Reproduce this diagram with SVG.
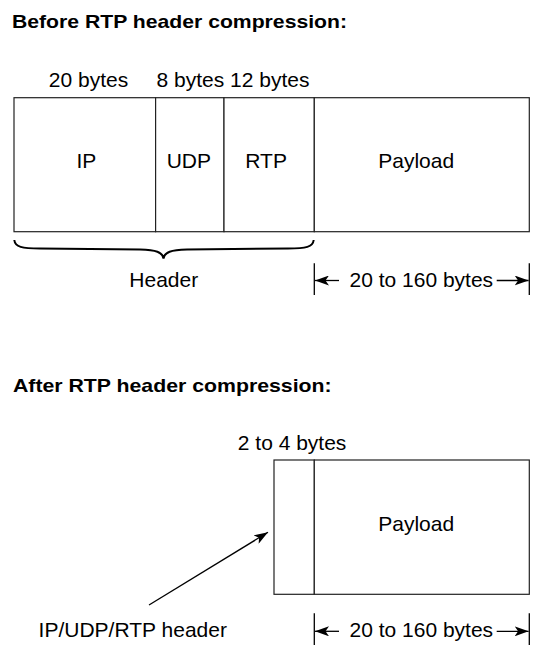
<svg xmlns="http://www.w3.org/2000/svg" width="535" height="647" viewBox="0 0 535 647">
<style>
.t{font-family:"Liberation Sans",Arial,sans-serif;font-size:21px;fill:#000}
.b{font-family:"Liberation Sans",Arial,sans-serif;font-size:19px;font-weight:bold;fill:#000}
.m{text-anchor:middle}
.box{fill:#fff;stroke:#222;stroke-width:1.2}
.ln{stroke:#000;stroke-width:1.3;fill:none}
</style>
<defs>
<marker id="ah" viewBox="0 0 14 10" refX="14" refY="5" markerWidth="14" markerHeight="10" markerUnits="userSpaceOnUse" orient="auto">
<path d="M0,0 L14,5 L0,10 L3.5,5 Z" fill="#000"/>
</marker>
</defs>
<rect width="535" height="647" fill="#fff"/>
<text class="b" x="12" y="28.3" textLength="335" lengthAdjust="spacingAndGlyphs">Before RTP header compression:</text>
<text class="t" x="48.8" y="87.3">20 bytes</text>
<text class="t" x="156.5" y="87.3">8 bytes 12 bytes</text>
<g id="ip"><rect class="box" x="14" y="97.7" width="141.6" height="134"/><text class="t m" x="86.3" y="168.3">IP</text></g>
<g id="udp"><rect class="box" x="155.6" y="97.7" width="68.4" height="134"/><text class="t m" x="188.8" y="168.3">UDP</text></g>
<g id="rtp"><rect class="box" x="224" y="97.7" width="90.3" height="134"/><text class="t m" x="266.1" y="168.3">RTP</text></g>
<g id="payload1"><rect class="box" x="314.3" y="97.7" width="215" height="134"/><text class="t m" x="416.2" y="168.3">Payload</text></g>
<g id="header-brace">
<path d="M14.3,240 C15,247 22,248.5 40,248.5 L140,249.5 C156,250 162.5,252 163.5,258.5 C164.5,252 171,250 187,249.5 L288,248.5 C306,248.5 313,247 313.7,240" fill="none" stroke="#000" stroke-width="2"/>
<text class="t m" x="163.8" y="286.7">Header</text>
</g>
<g id="dim1">
<line class="ln" x1="314.3" y1="263.3" x2="314.3" y2="295"/>
<line class="ln" x1="529.3" y1="263.3" x2="529.3" y2="295"/>
<line class="ln" x1="339" y1="280.5" x2="315" y2="280.5" marker-end="url(#ah)"/>
<line class="ln" x1="496.7" y1="280.5" x2="528.6" y2="280.5" marker-end="url(#ah)"/>
<text class="t" x="349.5" y="287">20 to 160 bytes</text>
</g>
<text class="b" x="13" y="391.7" textLength="318.6" lengthAdjust="spacingAndGlyphs">After RTP header compression:</text>
<text class="t" x="237.8" y="450">2 to 4 bytes</text>
<g id="cheader"><rect class="box" x="274" y="460" width="40.3" height="134.3"/></g>
<g id="payload2"><rect class="box" x="314.3" y="460" width="215" height="134.3"/><text class="t m" x="416.2" y="530.7">Payload</text></g>
<g id="connectors">
<line class="ln" x1="149" y1="605" x2="268" y2="532.3" marker-end="url(#ah)"/>
</g>
<text class="t" x="38.6" y="636.7">IP/UDP/RTP header</text>
<g id="dim2">
<line class="ln" x1="314.3" y1="613.3" x2="314.3" y2="645"/>
<line class="ln" x1="529.3" y1="613.3" x2="529.3" y2="645"/>
<line class="ln" x1="339" y1="631.3" x2="315" y2="631.3" marker-end="url(#ah)"/>
<line class="ln" x1="496.7" y1="631.3" x2="528.6" y2="631.3" marker-end="url(#ah)"/>
<text class="t" x="349.5" y="637.3">20 to 160 bytes</text>
</g>
</svg>
